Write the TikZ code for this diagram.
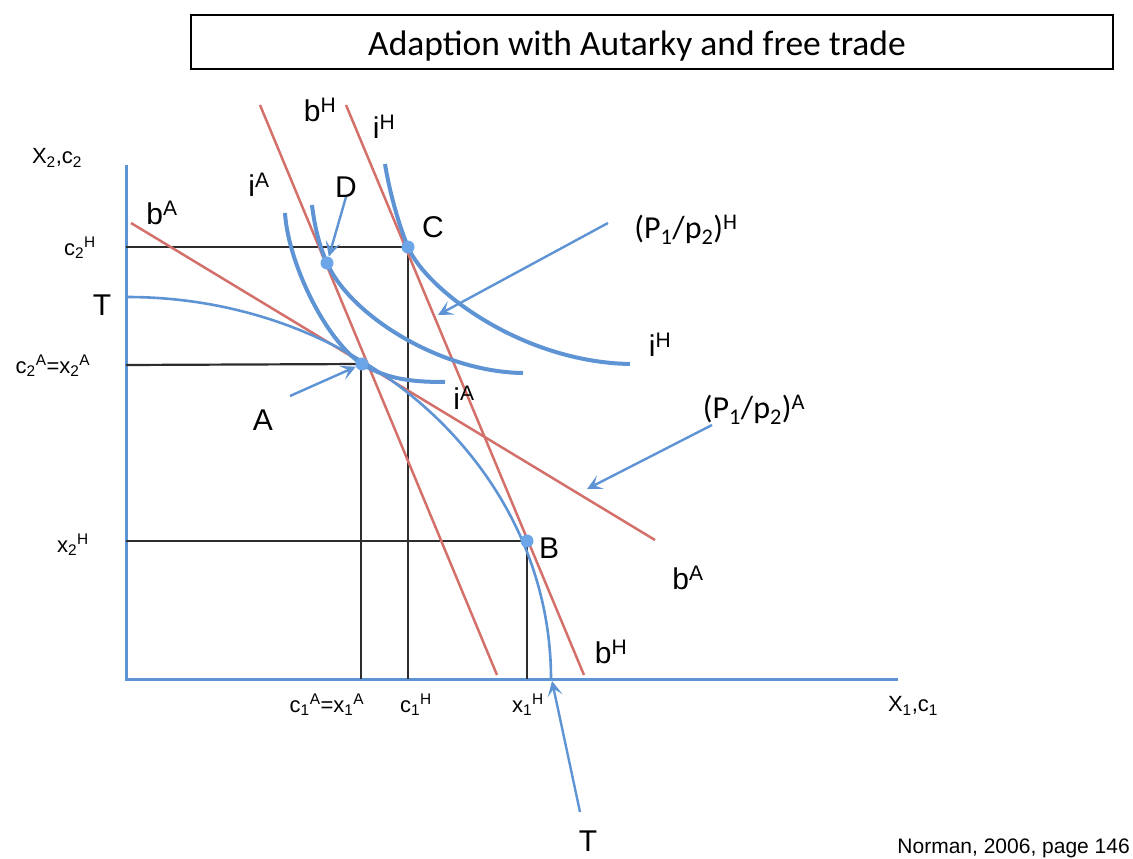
\documentclass[tikz,border=0pt]{standalone}
\usepackage{fontspec}
\setmainfont{Liberation Sans}
\newfontfamily\calib{Carlito}
\usetikzlibrary{arrows.meta}
\definecolor{cblue}{RGB}{94,148,212}
\definecolor{cpt}{RGB}{108,165,232}
\definecolor{cred}{RGB}{212,112,106}
\definecolor{cgray}{RGB}{45,45,45}
\begin{document}
\begin{tikzpicture}[x=1pt,y=-1pt,
  axis/.style={cblue, line width=3pt},
  budget/.style={cred, line width=2.5pt},
  indiff/.style={cblue, line width=4pt},
  tcurve/.style={cblue, line width=2.6pt},
  guide/.style={cgray, line width=2.6pt},
  pointer/.style={cblue, line width=2.4pt, -{Stealth[length=15pt,width=15pt,inset=7pt]}},
  pt/.style={circle, fill=cpt, minimum size=13pt, inner sep=0pt},
  big/.style={font=\fontsize{30}{32}\selectfont, inner sep=0pt},
  small/.style={font=\fontsize{22}{24}\selectfont, inner sep=0pt},
  cal/.style={font=\calib\fontsize{32}{36}\selectfont, inner sep=0pt}]

\useasboundingbox (0,0) rectangle (1133,859);

% title
\node[draw=black, line width=2pt, minimum width=922pt, minimum height=54pt, inner sep=0pt] (titlebox) at (652,42) {};
\node[font=\calib\fontsize{35.5}{38}\selectfont, inner sep=0pt, anchor=base] (title) at (637,56) {Adaption with Autarky and free trade};

% axes
\coordinate (ytop) at (126,165);
\coordinate (O) at (126,679);
\coordinate (xend) at (898,679);
\draw[axis] (ytop) -- (O) -- (xend);

% points
\coordinate (Ap) at (362,364);
\coordinate (Bp) at (527,541);
\coordinate (Cp) at (408,247);
\coordinate (Dp) at (327,263);

% guide lines
\draw[guide] (126,247) -- (Cp) -- (408,679);
\draw[guide, line width=2.2pt] (126,365) -- (Ap);
\draw[guide, line width=2.2pt] (361,364) -- (361,679);
\draw[guide] (126,541) -- (Bp) -- (527,679);

% budget lines
\draw[budget] (131,223) -- (655,540);
\draw[budget] (260,105) -- (497,675);
\draw[budget] (346,105) -- (584,675);

% transformation curve
\draw[tcurve] (127,297) arc[start angle=-90, end angle=0, x radius=424, y radius=382];

% indifference curves
\draw[indiff] (285,213) .. controls (288,262) and (325,340) .. (Ap)
              .. controls (388,380) and (415,382) .. (445,382);
\draw[indiff] (312,205) .. controls (315,230) and (320,247) .. (Dp)
              .. controls (350,315) and (440,372) .. (523,373);
\draw[indiff] (385,164) .. controls (390,195) and (400,228) .. (Cp)
              .. controls (425,288) and (520,362) .. (630,364);

% point markers
\node[pt] (A) at (Ap) {};
\node[pt] (B) at (Bp) {};
\node[pt] (C) at (Cp) {};
\node[pt] (D) at (Dp) {};

% labels
\node[small] (x2c2) at (57,158) {X\textsubscript{2},c\textsubscript{2}};
\node[small] (c2H) at (80,248) {c\textsubscript{2}\textsuperscript{H}};
\node[big] (Tl) at (102,305) {T};
\node[small] (c2A) at (53,366) {c\textsubscript{2}\textsuperscript{A}=x\textsubscript{2}\textsuperscript{A}};
\node[small] (x2H) at (73,545) {x\textsubscript{2}\textsuperscript{H}};
\node[small] (c1A) at (327,705) {c\textsubscript{1}\textsuperscript{A}=x\textsubscript{1}\textsuperscript{A}};
\node[small] (c1H) at (416,705) {c\textsubscript{1}\textsuperscript{H}};
\node[small] (x1H) at (528,705) {x\textsubscript{1}\textsuperscript{H}};
\node[small] (x1c1) at (913,706) {X\textsubscript{1},c\textsubscript{1}};

\node[big] (bAtop) at (162,213) {b\textsuperscript{A}};
\node[big] (iAtop) at (259,185) {i\textsuperscript{A}};
\node[big] (bHtop) at (320,110) {b\textsuperscript{H}};
\node[big] (iHtop) at (384,127) {i\textsuperscript{H}};
\node[big] (Dl) at (346,187) {D};
\node[big] (Cl) at (433,227) {C};
\node[cal] (PH) at (686,230) {(P\textsubscript{1}/p\textsubscript{2})\textsuperscript{H}};
\node[big] (iHr) at (660,345) {i\textsuperscript{H}};
\node[big] (iAr) at (464,398) {i\textsuperscript{A}};
\node[cal] (PA) at (754,410) {(P\textsubscript{1}/p\textsubscript{2})\textsuperscript{A}};
\node[big] (Al) at (263,420) {A};
\node[big] (Bl) at (549,548) {B};
\node[big] (bAr) at (688,578) {b\textsuperscript{A}};
\node[big] (bHr) at (611,652) {b\textsuperscript{H}};
\node[big] (Tb) at (588,841) {T};
\node[font=\fontsize{21}{24}\selectfont, inner sep=0pt, anchor=base east] (src) at (1130,853) {Norman, 2006, page 146};

% pointers
\coordinate (Dtail) at (346,197);
\draw[pointer] (Dtail) -- (D);
\coordinate (PHtail) at (608,223);
\coordinate (PHtip) at (438,315);
\draw[pointer] (PHtail) -- (PHtip);
\coordinate (PAtail) at (712,425);
\coordinate (PAtip) at (587,489);
\draw[pointer] (PAtail) -- (PAtip);
\coordinate (Atail) at (290,396);
\draw[pointer] (Atail) -- (A);
\coordinate (Ttail) at (580,812);
\coordinate (Ttip) at (552,681);
\draw[pointer] (Ttail) -- (Ttip);
\end{tikzpicture}
\end{document}
